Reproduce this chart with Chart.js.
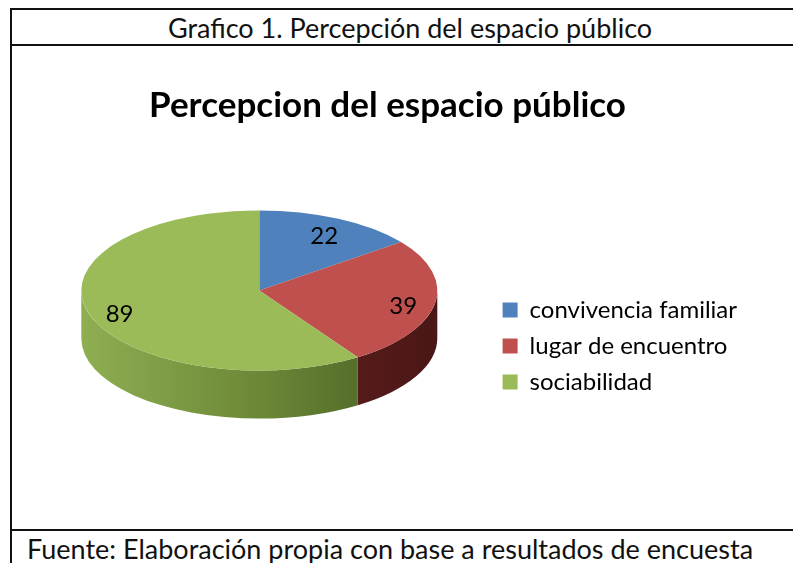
<!DOCTYPE html>
<html>
<head>
<meta charset="utf-8">
<script src="https://cdn.jsdelivr.net/npm/chart.js@4.4.1/dist/chart.umd.min.js"></script>
<style>
    body { margin: 0; background: #fff; overflow: hidden; width: 793px; height: 563px; }
    #frame { position: absolute; left: 10px; top: 8px; width: 800px; height: 600px; border-left: 2px solid #111; }
    .line { position: absolute; left: 0; width: 100%; height: 2px; background: #111; }
    #header { position: absolute; left: 0; top: 2px; width: 796px; height: 35px; text-align: center; line-height: 35px; font-family: Lato, "Open Sans", sans-serif; font-size: 27px; color: #111; }
    #chartBox { position: absolute; left: 0; top: 39px; width: 781px; height: 482px; }
    #footer { position: absolute; left: 15px; top: 524px; font-family: Lato, "Open Sans", sans-serif; font-size: 27px; color: #111; white-space: nowrap; }
</style>
</head>
<body>
<div id="frame">
    <div class="line" style="top:0"></div>
    <div id="header">Grafico 1. Percepción del espacio público</div>
    <div class="line" style="top:36px"></div>
    <div id="chartBox"><canvas id="myChart"></canvas></div>
    <div class="line" style="top:521px"></div>
    <div id="footer">Fuente: Elaboración propia con base a resultados de encuesta</div>
</div>
<script>
    const categories = ['convivencia familiar', 'lugar de encuentro', 'sociabilidad'];
    const values = [22, 39, 89];
    const topColors = ['#4f81bd', '#c0504d', '#9bbb59'];
    // colores del costado (de izquierda a derecha)
    const sideColors = [
        ['#3f6a9e', '#30537c', '#233d5c'],
        ['#7e2e2c', '#62201f', '#4a1716'],
        ['#8fae52', '#6c8837', '#435a22']
    ];

    // pastel "3D": costado + tapa aplastada
    const pie3d = {
        id: 'pie3d',
        beforeDatasetsDraw(chart, args, opts) {
            const ctx = chart.ctx;
            const arcs = chart.getDatasetMeta(0).data;
            const cx = arcs[0].x, cy = arcs[0].y + opts.shift;
            const r = arcs[0].outerRadius, ry = r * opts.tilt;
            arcs.forEach((arc, i) => {
                const a1 = Math.max(arc.startAngle, 0);
                const a2 = Math.min(arc.endAngle, Math.PI);
                if (a2 <= a1) return;
                const g = ctx.createLinearGradient(cx - r, 0, cx + r, 0);
                sideColors[i].forEach((c, j, a) => g.addColorStop(j / (a.length - 1), c));
                ctx.beginPath();
                ctx.ellipse(cx, cy, r, ry, 0, a1, a2);
                ctx.ellipse(cx, cy + opts.depth, r, ry, 0, a2, a1, true);
                ctx.closePath();
                ctx.fillStyle = g;
                ctx.fill();
            });
            ctx.save();
            ctx.translate(cx, cy);
            ctx.scale(1, opts.tilt);
            ctx.translate(-cx, -arcs[0].y);
        },
        afterDatasetsDraw(chart, args, opts) {
            const ctx = chart.ctx;
            ctx.restore();
            const arcs = chart.getDatasetMeta(0).data;
            const ds = chart.data.datasets[0].data;
            ctx.save();
            ctx.font = '24px Lato, "Open Sans", sans-serif';
            ctx.fillStyle = '#000';
            ctx.textAlign = 'center';
            ctx.textBaseline = 'middle';
            arcs.forEach((arc, i) => {
                const m = (arc.startAngle + arc.endAngle) / 2;
                const f = opts.labelPos;
                const x = arc.x + Math.cos(m) * arc.outerRadius * f;
                const y = arc.y + opts.shift + Math.sin(m) * arc.outerRadius * opts.tilt * f + 5;
                ctx.fillText(ds[i], x, y);
            });
            ctx.restore();
        }
    };

    const ctx = document.getElementById('myChart');

    new Chart(ctx, {
        type: 'pie',
        data: {
            labels: categories,
            datasets: [{
                data: values,
                backgroundColor: topColors,
                borderWidth: 0,
                radius: 178,
                clip: false
            }]
        },
        options: {
            responsive: true,
            maintainAspectRatio: false,
            animation: false,
            layout: {
                padding: { left: 16, right: 46, top: 0, bottom: 123 }
            },
            plugins: {
                title: {
                    display: true,
                    text: 'Percepcion del espacio público',
                    color: '#000',
                    font: { family: 'Lato, "Open Sans", sans-serif', size: 35, weight: 'bold' },
                    padding: { top: 38, bottom: 20 }
                },
                legend: {
                    position: 'right',
                    align: 'end',
                    labels: {
                        color: '#000',
                        font: { family: 'Lato, "Open Sans", sans-serif', size: 24 },
                        boxWidth: 15,
                        boxHeight: 15,
                        padding: 12
                    }
                },
                tooltip: { enabled: false },
                pie3d: { tilt: 0.45, depth: 48, shift: 14, labelPos: 0.82 }
            }
        },
        plugins: [pie3d]
    });
</script>
</body>
</html>
